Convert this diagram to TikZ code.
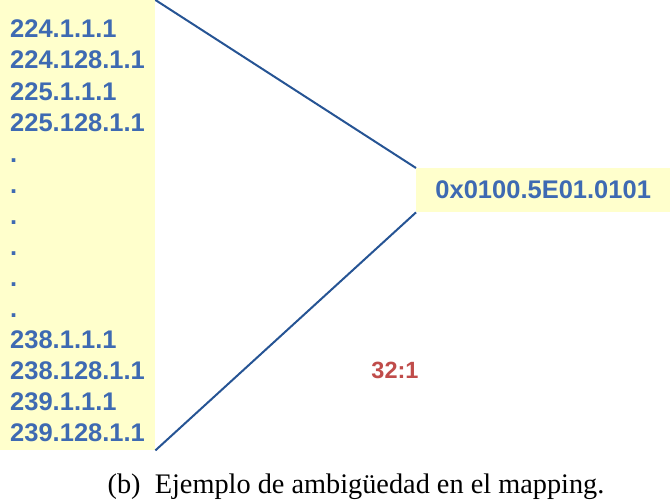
\documentclass[tikz,border=0pt]{standalone}
\usepackage{fontspec}
\setmainfont{Liberation Serif}
\newfontfamily\arialfam{Liberation Sans}
\usepackage{xcolor}
\usetikzlibrary{positioning}
\definecolor{notacol}{RGB}{255,255,204}
\definecolor{ipcol}{RGB}{62,106,178}
\definecolor{lineacol}{RGB}{38,84,148}
\definecolor{ratiocol}{RGB}{192,76,74}

\begin{document}
\begin{tikzpicture}[
  x=1pt, y=-1pt,
  nota/.style={fill=notacol, draw=none, inner sep=0pt},
  ip/.style={anchor=base west, inner sep=0pt, text=ipcol,
             font=\arialfam\bfseries\fontsize{25.5}{25.5}\selectfont},
  ratio/.style={inner sep=0pt, text=ratiocol,
                font=\arialfam\bfseries\fontsize{23.5}{23.5}\selectfont},
  enlace/.style={draw=lineacol, line width=2pt},
]
\useasboundingbox (0,0) rectangle (672,503);
\node[nota, anchor=north west, minimum width=155pt, minimum height=450pt] (lista) at (0,0) {};
\node[nota, anchor=north west, minimum width=254pt, minimum height=44pt] (mac) at (416,168) {};
\node[ip, anchor=center] (macip) at (mac.center) {0x0100.5E01.0101};

\foreach \t [count=\i] in {224.1.1.1, 224.128.1.1, 225.1.1.1, 225.128.1.1,
                           ., ., ., ., ., .,
                           238.1.1.1, 238.128.1.1, 239.1.1.1, 239.128.1.1}
  \node[ip] (l\i) at (10,{38+31*(\i-1)}) {\t};

\draw[enlace] (lista.north east) -- (mac.north west);
\draw[enlace] (lista.south east) -- (mac.south west);

\node[ratio] (rel) at (395,370) {32:1};
\node[font=\fontsize{28.3}{28.3}\selectfont, inner sep=0pt] (cap) at (356,487)
  {(b)\ \ Ejemplo de ambigüedad en el mapping.};
\end{tikzpicture}
\end{document}
